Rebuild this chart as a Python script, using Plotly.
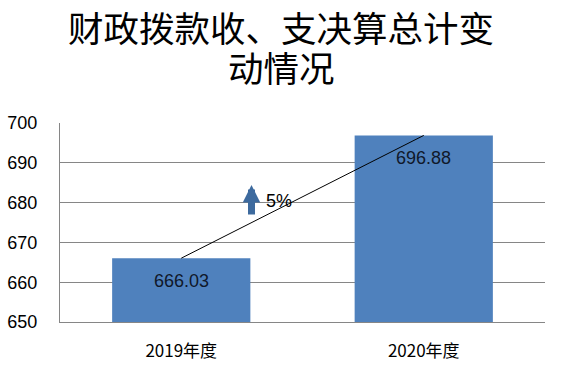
import plotly.graph_objects as go

categories = ["2019年度", "2020年度"]
values = [666.03, 696.88]
value_labels = ["666.03", "696.88"]
change_label = "5%"
title_lines = ["财政拨款收、支决算总计变", "动情况"]
y_ticks = [650, 660, 670, 680, 690, 700]

W, H = 561, 372
ML, MR, MT, MB = 60, 16, 123, 50
bar_color = "#4F81BD"
grid_color = "#868686"
font_lat = "Liberation Sans, Arial, sans-serif"
font_cjk = "Noto Sans CJK SC, sans-serif"

fig = go.Figure()
fig.add_trace(go.Bar(
    x=categories, y=values, marker=dict(color=bar_color, line=dict(width=0)),
    width=0.57, showlegend=False, hoverinfo="skip",
))
fig.add_trace(go.Scatter(
    x=categories, y=values, mode="lines",
    line=dict(color="#000000", width=1), showlegend=False, hoverinfo="skip",
))

plot_h = H - MT - MB
plot_w = W - ML - MR
def py(ypix):
    return (H - MB - ypix) / plot_h
def px(xpix):
    return (xpix - ML) / plot_w

annotations = []
for c, v, t in zip(categories, values, value_labels):
    annotations.append(dict(
        x=c, y=v, xref="x", yref="y", text=t, showarrow=False,
        yshift=-23, font=dict(family=font_lat, size=18, color="#10182a"),
    ))

for line, ypix in zip(title_lines, [27, 67]):
    annotations.append(dict(x=px(281), y=py(ypix), xref="paper", yref="paper", text=line,
                            showarrow=False, font=dict(family=font_cjk, size=35.5, color="#000"),
                            yanchor="middle", xanchor="center"))

# growth arrow (head at top) and label
annotations.append(dict(
    x=0.5, y=py(185), xref="x domain", yref="paper", ax=0, ay=31, axref="pixel", ayref="pixel",
    text="", showarrow=True, arrowhead=2, arrowsize=0.5, arrowwidth=7,
    arrowcolor="#3D6A9E", xshift=-51, standoff=0,
))
annotations.append(dict(
    x=0.5, y=py(201), xref="x domain", yref="paper", text=change_label, showarrow=False,
    xshift=-24, yanchor="middle", font=dict(family=font_lat, size=18, color="#000"),
))

fig.update_layout(
    width=W, height=H,
    margin=dict(l=ML, r=MR, t=MT, b=MB),
    paper_bgcolor="white", plot_bgcolor="white",
    bargap=0.43,
    xaxis=dict(
        showgrid=False, showline=True, linecolor=grid_color, linewidth=1,
        tickfont=dict(family=font_cjk, size=17, color="#000"),
        ticks="", ticklabelstandoff=14, automargin=False,
    ),
    yaxis=dict(
        range=[650, 700], tickvals=y_ticks, showgrid=True, gridcolor=grid_color,
        gridwidth=1, showline=True, linecolor=grid_color, linewidth=1,
        tickfont=dict(family=font_lat, size=18, color="#000"),
        ticks="", ticklabelstandoff=18, zeroline=False, automargin=False,
    ),
    annotations=annotations,
)
fig.write_html(
    "out.html",
    config={"displayModeBar": False, "staticPlot": True},
    post_script="document.body.style.margin='0';document.body.style.padding='0';",
)
